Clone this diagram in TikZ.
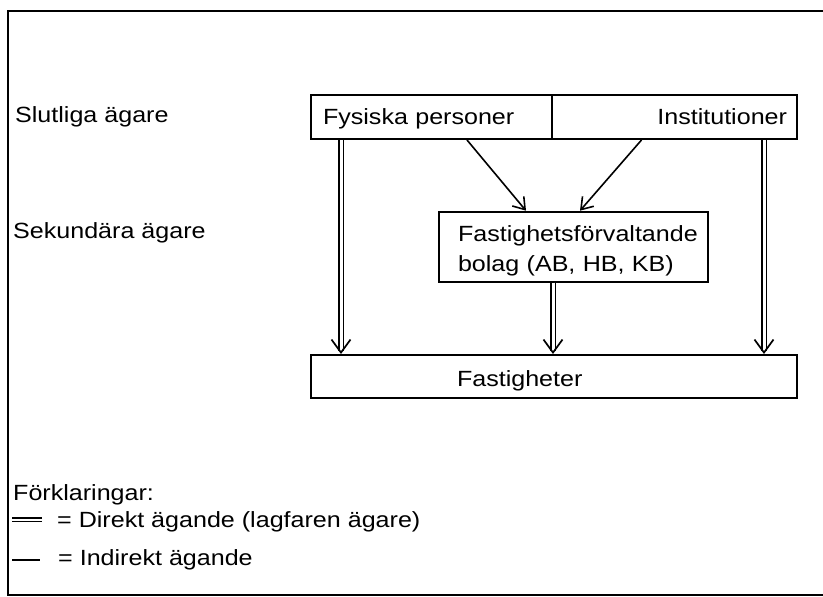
\documentclass[tikz,border=0pt]{standalone}
\usepackage{fontspec}
\setmainfont{Liberation Sans}[FakeStretch=1.14]
\usetikzlibrary{arrows.meta,decorations.markings}
\tikzset{
  box/.style={draw, line width=2pt, inner sep=0pt},
  lbl/.style={inner sep=0pt, anchor=base west},
  indirekt/.style={line width=1.6pt, -{Straight Barb[length=11pt,width=15pt,line width=1.6pt]}},
  direkt/.style={double, double distance=3pt, line width=1.7pt, shorten >=3pt,
    postaction={decorate, decoration={markings,
      mark=at position 1 with {\arrow[line width=1.7pt]{Straight Barb[length=13pt,width=19pt]}}}}},
}

\begin{document}
\begin{tikzpicture}[x=1pt, y=-1pt, font=\fontsize{22pt}{30pt}\selectfont]
\useasboundingbox (0,0) rectangle (823,597);
\draw[line width=2pt] (830,11) -- (8,11) -- (8,595) -- (830,595);

% levels
\node[lbl] (slut) at (15,122.7) {Slutliga ägare};
\node[lbl] (sek) at (13,238.5) {Sekundära ägare};

% boxes
\node[box, minimum height=44pt, text width=217pt, inner xsep=12pt, text height=20pt, text depth=5pt, align=left] (fp) at (431.5,117) {Fysiska personer};
\node[box, minimum height=44pt, text width=225pt, inner xsep=10pt, text height=20pt, text depth=5pt, align=right] (inst) at (674.5,117) {Institutioner};
\node[box, minimum height=70pt, text width=231pt, inner xsep=19pt, align=left] (fb) at (573.5,246.7) {\rule{0pt}{24.6pt}\mbox{Fastighetsförvaltande}\\bolag (AB, HB, KB)};
\node[box, minimum height=43pt, text width=486pt, inner xsep=0pt, text height=24pt, text depth=3.6pt, align=left] (fast) at (554,376.5) {\hspace*{146pt}Fastigheter};

% ownership
\coordinate (dl) at (341,0);
\coordinate (dm) at (553,0);
\coordinate (dr) at (764,0);
\draw[direkt] (fp.south -| dl) -- (fast.north -| dl);
\draw[direkt] (fb.south -| dm) -- (fast.north -| dm);
\draw[direkt] (inst.south -| dr) -- (fast.north -| dr);
\draw[indirekt] ([xshift=35.5pt]fp.south) -- ([xshift=-47.5pt]fb.north);
\draw[indirekt] ([xshift=-33pt]inst.south) -- ([xshift=6.5pt]fb.north);

% legend
\node[lbl] (fk) at (13,500) {Förklaringar:};
\draw[double, double distance=2pt, line width=1.4pt] (12,519.7) -- (42,519.7);
\node[lbl] (ld) at (57,527.5) {= Direkt ägande (lagfaren ägare)};
\draw[line width=1.8pt] (12,560) -- (40,560);
\node[lbl] (li) at (58,565) {= Indirekt ägande};
\end{tikzpicture}
\end{document}
